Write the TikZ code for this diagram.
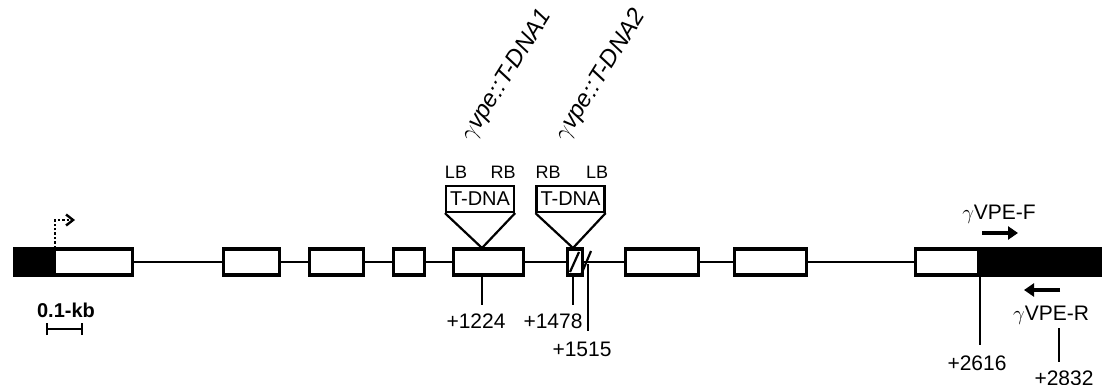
\documentclass[tikz,border=0pt]{standalone}
\usepackage{fontspec}
\setmainfont{Liberation Sans}
\usetikzlibrary{arrows.meta}
\begin{document}
\begin{tikzpicture}[x=1pt,y=-1pt,
  exon/.style={draw, line width=3.4pt, fill=white, minimum height=26pt, inner sep=0pt, outer sep=0pt},
  utr/.style={exon, fill=black},
  intron/.style={line width=2.4pt},
  tickline/.style={line width=2.2pt},
  poslab/.style={font=\fontsize{21}{22}\selectfont, inner sep=0pt},
  tdna/.style={draw, line width=2.2pt, fill=white, minimum width=68pt, minimum height=26pt, inner sep=0pt, font=\fontsize{20}{21}\selectfont},
  border/.style={font=\fontsize{18}{19}\selectfont, inner sep=0pt},
  ins/.style={line width=2.2pt},
  allele/.style={font=\fontsize{24}{25}\selectfont\itshape, rotate=58, anchor=base west, inner sep=0pt},
  primer/.style={line width=4pt, -{Triangle[length=10pt,width=13pt]}},
  plab/.style={font=\fontsize{21}{22}\selectfont, inner sep=0pt}
]
\useasboundingbox (0,0) rectangle (1102,385);
\fill[white] (0,0) rectangle (1102,385);

% exons
\node[utr,  minimum width=39pt] (u1) at (34,262) {};
\node[exon, minimum width=78pt] (e1) at (93.5,262) {};
\node[exon, minimum width=56pt] (e2) at (251.5,262) {};
\node[exon, minimum width=54pt] (e3) at (336.5,262) {};
\node[exon, minimum width=31pt] (e4) at (409,262) {};
\node[exon, minimum width=70pt] (e5) at (488.5,262) {};
\node[exon, minimum width=15pt] (e6) at (575,262) {};
\node[exon, minimum width=73pt] (e7) at (662,262) {};
\node[exon, minimum width=72pt] (e8) at (770.5,262) {};
\node[exon, minimum width=63pt] (e9) at (947,262) {};
\node[utr,  minimum width=130pt] (u2) at (1044,262) {};

% introns
\draw[intron] (e1.east) -- (e2.west);
\draw[intron] (e2.east) -- (e3.west);
\draw[intron] (e3.east) -- (e4.west);
\draw[intron] (e4.east) -- (e5.west);
\draw[intron] (e5.east) -- (e6.west);
\draw[intron] (e6.east) -- (e7.west);
\draw[intron] (e7.east) -- (e8.west);
\draw[intron] (e8.east) -- (e9.west);

% break marks
\draw[ins] (570,272) -- (579,252);
\draw[ins] (581,275) -- (591,251);

% promoter arrow
\coordinate (tss0) at (55,248);
\coordinate (tss1) at (55,220);
\coordinate (tss2) at (75,220);
\draw[line width=2.4pt, dotted, -{Straight Barb[length=7pt,width=11pt,line width=2.4pt]}] (tss0) -- (tss1) -- (tss2);

% T-DNA insertions
\node[tdna] (t1) at (480,199) {T-DNA};
\coordinate (a1) at (482,248);
\draw[ins] (t1.south west) -- (a1) -- (t1.south east);
\node[border] (lb1) at (456,172) {LB};
\node[border] (rb1) at (503,172) {RB};
\node[allele] (al1) at (472,143) {$\gamma$vpe::T-DNA1};

\node[tdna] (t2) at (570.5,199) {T-DNA};
\coordinate (a2) at (573,248);
\draw[ins] (t2.south west) -- (a2) -- (t2.south east);
\node[border] (rb2) at (548,172) {RB};
\node[border] (lb2) at (597,172) {LB};
\node[allele] (al2) at (566,143) {$\gamma$vpe::T-DNA2};

% positions
\coordinate (p1224a) at (482,276);
\coordinate (p1224b) at (482,305);
\draw[tickline] (p1224a) -- (p1224b);
\node[poslab] (l1224) at (476,321) {+1224};

\coordinate (p1478a) at (573,276);
\coordinate (p1478b) at (573,305);
\draw[tickline] (p1478a) -- (p1478b);
\node[poslab] (l1478) at (553,321) {+1478};

\coordinate (p1515a) at (588,264);
\coordinate (p1515b) at (588,331);
\draw[tickline] (p1515a) -- (p1515b);
\node[poslab] (l1515) at (582,349) {+1515};

\coordinate (p2616a) at (980,276);
\coordinate (p2616b) at (980,345);
\draw[tickline] (p2616a) -- (p2616b);
\node[poslab] (l2616) at (977,363) {+2616};

\coordinate (p2832a) at (1059,328);
\coordinate (p2832b) at (1059,362);
\draw[tickline] (p2832a) -- (p2832b);
\node[poslab] (l2832) at (1064,378) {+2832};

% primers
\node[plab] (pf) at (999,214) {$\gamma$VPE-F};
\coordinate (f0) at (982,233);
\coordinate (f1) at (1018,233);
\draw[primer] (f0) -- (f1);
\node[plab] (pr) at (1051,315) {$\gamma$VPE-R};
\coordinate (r0) at (1060,290);
\coordinate (r1) at (1024,290);
\draw[primer] (r0) -- (r1);

% scale bar
\node[font=\fontsize{20}{21}\selectfont\bfseries, inner sep=0pt] (sc) at (66,310) {0.1-kb};
\coordinate (s0) at (47,329);
\coordinate (s1) at (82,329);
\draw[line width=2.4pt] (s0) -- (s1);
\draw[line width=2.4pt] ([yshift=-6pt]s0) -- ([yshift=6pt]s0);
\draw[line width=2.4pt] ([yshift=-6pt]s1) -- ([yshift=6pt]s1);
\end{tikzpicture}
\end{document}
